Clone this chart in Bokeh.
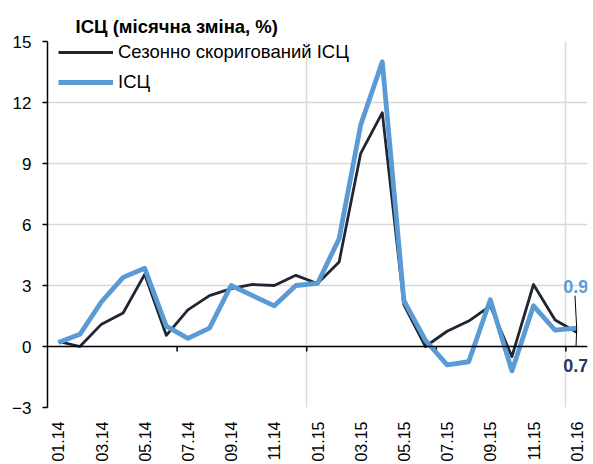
import math
from bokeh.plotting import figure
from bokeh.models import FixedTicker, Span, Label, Legend, LegendItem, Range1d
from bokeh.embed import file_html
from bokeh.resources import INLINE

# ---- data ----
months = ["01.14", "02.14", "03.14", "04.14", "05.14", "06.14", "07.14", "08.14",
          "09.14", "10.14", "11.14", "12.14", "01.15", "02.15", "03.15", "04.15",
          "05.15", "06.15", "07.15", "08.15", "09.15", "10.15", "11.15", "12.15", "01.16"]
cpi_sa = [0.25, 0.0, 1.1, 1.65, 3.55, 0.55, 1.8, 2.5, 2.85, 3.05, 3.0, 3.5, 3.1,
          4.15, 9.5, 11.5, 2.05, 0.0, 0.75, 1.25, 2.0, -0.5, 3.05, 1.3, 0.7]
cpi = [0.2, 0.6, 2.2, 3.4, 3.85, 1.0, 0.4, 0.9, 3.0, 2.5, 2.0, 3.0, 3.1,
       5.3, 10.9, 14.0, 2.25, 0.3, -0.9, -0.75, 2.3, -1.2, 2.0, 0.8, 0.9]
y_ticks = [-3, 0, 3, 6, 9, 12, 15]
title_text = "ІСЦ (місячна зміна, %)"
name_sa = "Сезонно скоригований ІСЦ"
name_cpi = "ІСЦ"

FONT = "Liberation Sans"
BLUE = "#5b9bd5"
DARK = "#1f2631"
NAVY = "#223a5e"
GRID = "#d9d9d9"

x = list(range(len(months)))

p = figure(width=593, height=464,
           x_range=Range1d(-0.5, len(months) - 0.5), y_range=Range1d(-3, 15),
           output_backend="svg", toolbar_location=None,
           min_border_left=47, min_border_right=6, min_border_top=41, min_border_bottom=57)
p.outline_line_color = None
p.background_fill_color = "white"

p.title.text = title_text
p.title.text_font = FONT
p.title.text_font_size = "18.5px"
p.title.text_font_style = "bold"
p.title.text_color = "black"
p.title.align = "left"
p.title.offset = 28
p.title.standoff = 9

# y axis
p.yaxis.ticker = FixedTicker(ticks=y_ticks)
p.yaxis.major_label_text_font = FONT
p.yaxis.major_label_text_font_size = "17px"
p.yaxis.major_label_text_color = "black"
p.yaxis.axis_line_color = "black"
p.yaxis.axis_line_width = 1.5
p.yaxis.major_tick_line_color = "black"
p.yaxis.major_tick_line_width = 1.5
p.yaxis.major_tick_out = 5
p.yaxis.major_tick_in = 0
p.yaxis.minor_tick_line_color = None
p.yaxis.major_label_standoff = 11

# x axis (labels only)
p.xaxis.ticker = FixedTicker(ticks=x[::2])
p.xaxis.major_label_overrides = {i: months[i] for i in x[::2]}
p.xaxis.major_label_orientation = math.pi / 2
p.xaxis.major_label_text_font = FONT
p.xaxis.major_label_text_font_size = "16px"
p.xaxis.major_label_text_color = "black"
p.xaxis.axis_line_color = None
p.xaxis.major_tick_line_color = None
p.xaxis.minor_tick_line_color = None
p.xaxis.major_label_standoff = 8

# grids
boundaries = [i - 0.5 for i in x if i > 0 and i % 6 == 0]
year_bounds = [i - 0.5 for i in x if i > 0 and i % 12 == 0]
p.xgrid.ticker = FixedTicker(ticks=year_bounds)
p.xgrid.grid_line_color = GRID
p.xgrid.grid_line_width = 1.5
p.ygrid.grid_line_color = GRID
p.ygrid.grid_line_width = 1.5

# zero line with ticks
p.add_layout(Span(location=0, dimension="width", line_color="black", line_width=1.5))
p.segment(x0=boundaries, y0=[0] * len(boundaries), x1=boundaries, y1=[-0.25] * len(boundaries),
          line_color="black", line_width=1.5)

r_sa = p.line(x, cpi_sa, line_color=DARK, line_width=2.8, line_join="round")
r_cpi = p.line(x, cpi, line_color=BLUE, line_width=4.8, line_join="round")

# leader line and end labels
last = x[-1]
p.line([last - 0.08, last, last - 0.03], [cpi[-1] + 1.6, cpi[-1], 0],
       line_color="black", line_width=1)
p.add_layout(Label(x=last, y=cpi[-1], y_offset=42, text=f"{cpi[-1]:.1f}",
                   text_font=FONT, text_font_size="18px", text_font_style="bold",
                   text_color=BLUE, text_align="center", text_baseline="middle", x_offset=-1))
p.add_layout(Label(x=last, y=cpi_sa[-1], y_offset=-33, text=f"{cpi_sa[-1]:.1f}",
                   text_font=FONT, text_font_size="18px", text_font_style="bold",
                   text_color=NAVY, text_align="center", text_baseline="middle", x_offset=-1))

legend = Legend(items=[LegendItem(label=name_sa, renderers=[r_sa]),
                       LegendItem(label=name_cpi, renderers=[r_cpi])],
                location=(11, 314))
legend.label_text_font = FONT
legend.label_text_font_size = "18.5px"
legend.label_text_color = "black"
legend.border_line_color = None
legend.background_fill_alpha = 0
legend.glyph_width = 55
legend.glyph_height = 22
legend.label_height = 22
legend.label_standoff = 5
legend.padding = 0
legend.margin = 0
legend.spacing = 8
p.add_layout(legend)

open("out.html", "w").write(file_html(p, INLINE))
